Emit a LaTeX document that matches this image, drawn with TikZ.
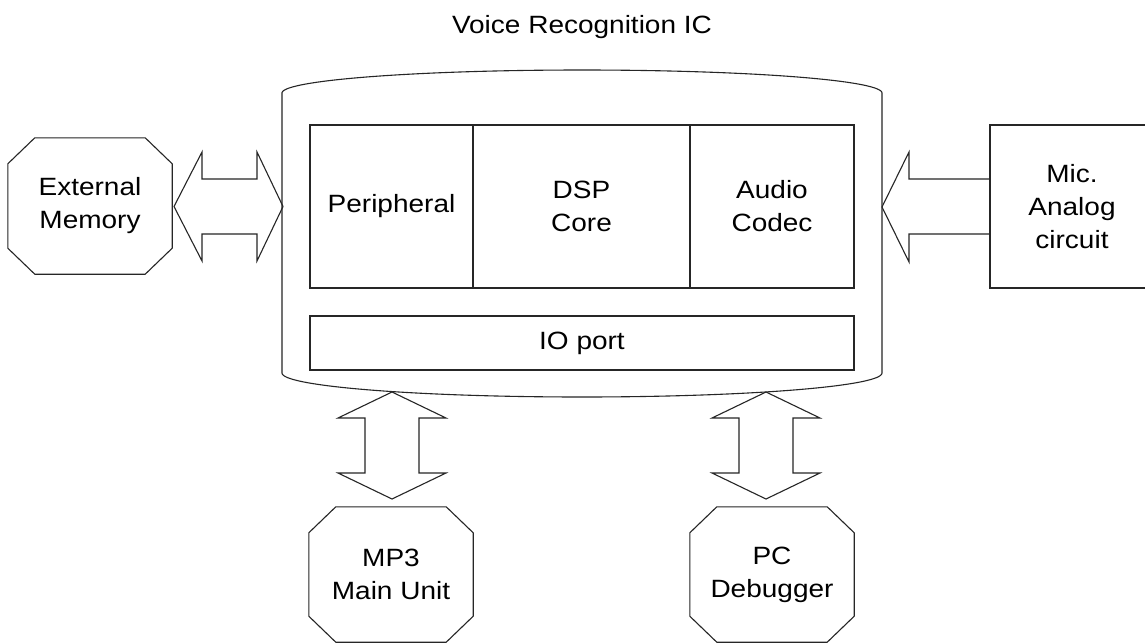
\documentclass[tikz,border=0pt]{standalone}
\usepackage{fontspec}
\setmainfont{Liberation Sans}[FakeStretch=1.12]
\usetikzlibrary{calc}

\tikzset{
  edge/.style={draw=black!85, line width=1.1pt, line join=miter},
  lbl/.style={font=\fontsize{25}{33}\selectfont, align=center, inner sep=0pt},
  block/.style={edge, lbl, rectangle, minimum width=#1},
  octo/.style={lbl, rectangle, minimum width=164, minimum height=135},
}

% chamfered outline around a named node
\newcommand\chamfer[1]{%
  \draw[edge] ($(#1.north west)+(27,0)$) -- ($(#1.north east)+(-27,0)$)
    -- ($(#1.north east)+(0,26)$) -- ($(#1.south east)+(0,-26)$)
    -- ($(#1.south east)+(-27,0)$) -- ($(#1.south west)+(27,0)$)
    -- ($(#1.south west)+(0,-26)$) -- ($(#1.north west)+(0,26)$) -- cycle;}

\begin{document}
\begin{tikzpicture}[x=1pt, y=-1pt]
  \fill[white] (0,0) rectangle (1145,643);
  \useasboundingbox (0,0) rectangle (1145,643);
  \clip (0,0) rectangle (1145,643);

  % title
  \node[lbl] (title) at (582,27) {Voice Recognition IC};

  % chip body: straight sides, elliptic top and bottom
  \draw[edge] (282,93) -- (282,373)
    -- plot[domain=180:360, samples=90] ({582+300*cos(\x)}, {373-24*sin(\x)})
    -- (882,93)
    -- plot[domain=0:180, samples=90] ({582+300*cos(\x)}, {93-23*sin(\x)})
    -- cycle;
  \node[minimum width=600, minimum height=280, inner sep=0pt] (chip) at (582,233) {};

  % internal blocks
  \node[block=163, minimum height=163] (per) at (391.5,206.5) {Peripheral};
  \node[block=217, minimum height=163] (dsp) at (581.5,206.5) {DSP\\Core};
  \node[block=164, minimum height=163] (codec) at (772,206.5) {Audio\\Codec};
  \node[block=544, minimum height=54] (io) at (582,343) {IO port};

  % external units
  \node[octo, minimum height=136] (mem) at (90,206) {External\\Memory};
  \chamfer{mem}
  \node[octo] (mp3) at (391,574.5) {MP3\\Main Unit};
  \chamfer{mp3}
  \node[octo] (pc) at (772,574.5) {PC\\Debugger};
  \chamfer{pc}
  \node[block=164, minimum height=163] (mic) at (1072,206.5) {Mic.\\Analog\\circuit};

  % memory <-> chip
  \draw[edge] (174,206.5) -- (202,152) -- (202,179) -- (257,179) -- (257,152)
    -- (283,206.5) -- (257,261) -- (257,234) -- (202,234) -- (202,261) -- cycle;

  % microphone -> chip
  \draw[edge] (mic.west |- 0,179) -- (909,179) -- (909,152) -- (882,207)
    -- (909,262) -- (909,234) -- (mic.west |- 0,234);

  % chip <-> MP3 main unit
  \draw[edge] (392,392) -- (446,418) -- (419,418) -- (419,473) -- (446,473)
    -- (392,499) -- (338,473) -- (365,473) -- (365,418) -- (338,418) -- cycle;

  % chip <-> PC debugger
  \draw[edge] (766,392) -- (820,418) -- (793,418) -- (793,473) -- (820,473)
    -- (766,499) -- (712,473) -- (739,473) -- (739,418) -- (712,418) -- cycle;
\end{tikzpicture}
\end{document}
